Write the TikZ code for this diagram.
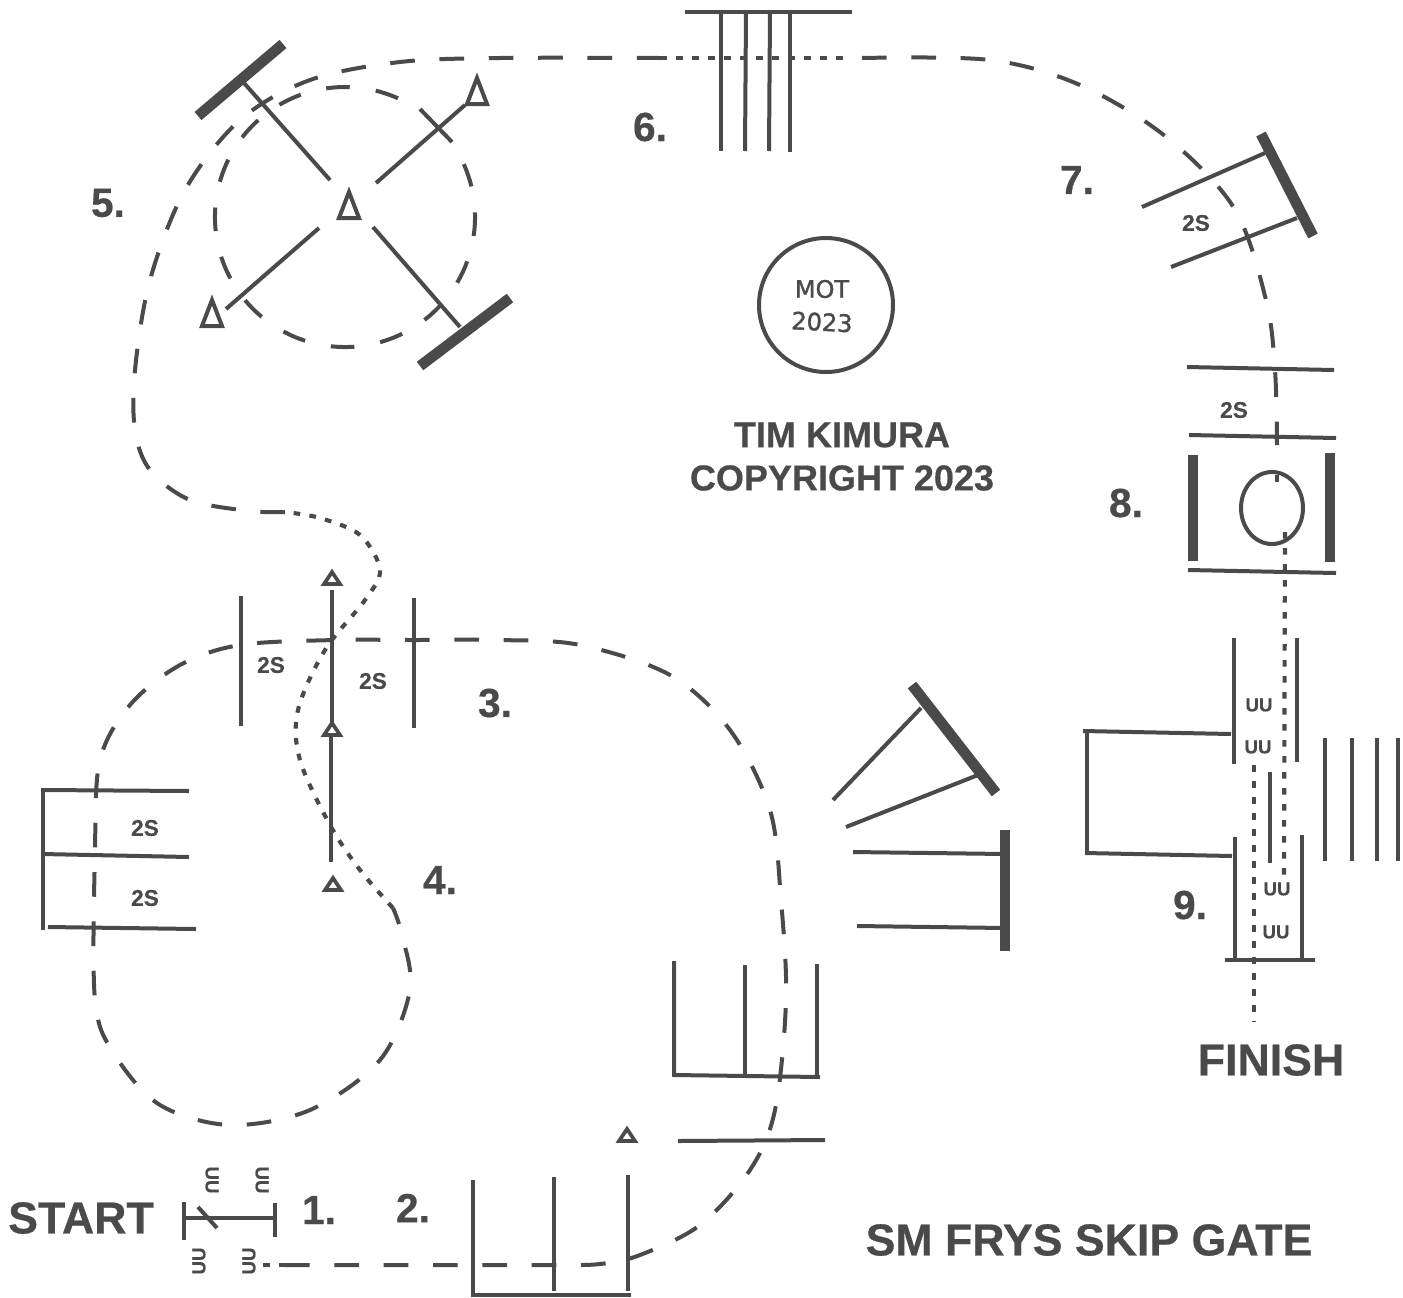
\documentclass[tikz,border=0pt]{standalone}
\usepackage{fontspec}
\setmainfont{Liberation Sans}
\newfontfamily\heavyfont[FakeBold=0.5]{Liberation Sans Bold}
\newfontfamily\handfont[FakeBold=1.5]{DejaVu Sans}
\definecolor{ink}{HTML}{4A4A4D}
\tikzset{
  wire/.style={draw=ink,line width=3pt},
  heavy/.style={draw=ink,line width=8pt},
  dashline/.style={draw=ink,line width=3pt,dash pattern=on 18.5pt off 18.5pt},
  ringline/.style={draw=ink,line width=3pt,dash pattern=on 17.7pt off 19.7pt},
  dotline/.style={draw=ink,line width=3.1pt,dash pattern=on 5pt off 7pt},
  coneA/.style={draw=ink,line width=3pt,line join=miter},
  lab/.style={text=ink,font=\heavyfont\fontsize{30.5}{30.5}\selectfont,inner sep=0pt},
  big/.style={text=ink,font=\heavyfont\fontsize{33.5}{33.5}\selectfont,inner sep=0pt},
  mid/.style={text=ink,font=\heavyfont\fontsize{27}{27}\selectfont,inner sep=0pt,align=center},
  two/.style={text=ink,font=\heavyfont\fontsize{17}{17}\selectfont,inner sep=0pt},
  uu/.style={text=ink,font=\heavyfont\fontsize{14}{14}\selectfont,inner sep=0pt},
  hand/.style={text=ink,font=\handfont\fontsize{18}{18}\selectfont,inner sep=0pt},
}
\newcommand{\bigcone}[2]{\draw[coneA] (#1-10,#2+13) -- (#1,#2-13) -- (#1+10,#2+13) -- cycle;}
\newcommand{\smallcone}[2]{\draw[coneA,line width=2.8pt] (#1-8,#2+6) -- (#1,#2-6) -- (#1+8,#2+6) -- cycle;}
\begin{document}
\begin{tikzpicture}[x=0.75pt,y=-0.75pt]
\useasboundingbox (0,0) rectangle (1403,1297);
% course path
\draw[dotline] (263,1265) -- (285,1265);
\draw[dashline] plot[smooth,tension=0.55] coordinates {(285,1265) (470,1265) (555,1265) (600,1264) (640,1255) (700,1225) (750,1170) (775,1110) (786,1000) (781,900) (770,810) (730,730) (670,675) (580,645) (500,640) (414,640) (335,640) (240,645) (180,665) (130,705) (100,760) (95,850) (95,1000) (115,1055) (160,1105) (230,1125) (310,1110) (380,1060) (410,990) (402,935) (393,908)};
\draw[dotline] plot[smooth,tension=0.55] coordinates {(393,908) (360,870) (330,825) (300,760) (298,710) (325,650) (365,600) (380,570) (360,535) (320,518) (285,512)};
\draw[dashline] plot[smooth,tension=0.55] coordinates {(285,512) (250,511) (190,500) (150,470) (135,430) (135,370) (150,280) (185,190) (240,120) (310,80) (400,62) (500,58) (660,58)};
\draw[dotline] (660,58) -- (850,58);
\draw[dashline] plot[smooth,tension=0.55] coordinates {(862,58) (990,60) (1080,85) (1165,136) (1234,208) (1266,300) (1275,370) (1277,445)};
\draw[dotline] (1277,475) -- (1277,487);
\draw[dotline] (1285,532) -- (1284,875);
\draw[dotline] (1254,765) -- (1254,1022);
% obstacle 1
\draw[wire] (185,1218) -- (275,1218);
\draw[wire] (184,1202) -- (184,1240);
\draw[wire] (275,1203) -- (275,1237);
\draw[wire] (198,1207) -- (217,1228);
\node[uu,rotate=-90] (u1) at (212,1180) {UU};
\node[uu,rotate=-90] (u2) at (262,1180) {UU};
\node[uu,rotate=90] (u3) at (199,1261) {UU};
\node[uu,rotate=90] (u4) at (249,1261) {UU};
% obstacle 2
\draw[wire] (473,1180) -- (473,1295) -- (631,1295);
\draw[wire] (554,1177) -- (554,1291);
\draw[wire] (628,1175) -- (628,1291);
\smallcone{627}{1135}
% lower right boxes
\draw[wire] (674,961) -- (674,1075) -- (820,1077);
\draw[wire] (745,965) -- (745,1076);
\draw[wire] (817,964) -- (817,1076);
\draw[wire] (678,1141) -- (825,1140);
% middle-right gates
\draw[heavy] (912,685) -- (996,793);
\draw[wire] (921,708) -- (833,800);
\draw[wire] (978,775) -- (846,827);
\draw[heavy] (1005,830) -- (1005,951);
\draw[wire] (853,852) -- (1005,854);
\draw[wire] (857,926) -- (1005,928);
% obstacle 3/4
\draw[wire] (241,596) -- (241,726);
\draw[wire] (332,590) -- (332,722);
\draw[wire] (414,598) -- (414,728);
\draw[wire] (331,737) -- (331,862);
\smallcone{332}{578}
\smallcone{332}{729}
\smallcone{333}{884}
\node[two] (t1) at (271,665) {2S};
\node[two] (t2) at (373,681) {2S};
% left boxes
\draw[wire] (42,790) -- (189,791);
\draw[wire] (42,854) -- (189,857);
\draw[wire] (48,927) -- (196,929);
\draw[wire] (43,788) -- (43,930);
\node[two] (t3) at (145,828) {2S};
\node[two] (t4) at (145,898) {2S};
% obstacle 5
\draw[ringline] (345,217) ++(-24:130) arc[start angle=-24,end angle=304,radius=130];
\draw[heavy] (198,116) -- (283,44);
\draw[heavy] (420,366) -- (510,298);
\draw[wire] (244,83) -- (330,180);
\draw[wire] (373,227) -- (460,327);
\draw[wire] (376,183) -- (465,105);
\draw[wire] (420,109) -- (452,142);
\draw[wire] (319,228) -- (226,309);
\bigcone{349}{205}
\bigcone{477}{91}
\bigcone{212}{313}
% obstacle 6
\draw[wire] (685,12) -- (852,12);
\draw[wire] (721,12) -- (721,151);
\draw[wire] (746,12) -- (745,151);
\draw[wire] (770,12) -- (769,151);
\draw[wire] (790,12) -- (790,152);
% obstacle 7
\draw[heavy] (1261,134) -- (1313,236);
\draw[wire] (1142,207) -- (1265,153);
\draw[wire] (1171,267) -- (1297,218);
\node[two] (t5) at (1196,223) {2S};
% obstacle 8
\draw[wire] (1187,367) -- (1334,370);
\draw[wire] (1189,435) -- (1336,438);
\draw[heavy] (1193,455) -- (1193,561);
\draw[heavy] (1330,453) -- (1330,562);
\draw[wire] (1188,570) -- (1336,573);
\draw[wire] (1272,508) ellipse[x radius=31,y radius=36];
\node[two] (t6) at (1234,410) {2S};
% obstacle 9
\draw[wire] (1234,638) -- (1234,764);
\draw[wire] (1297,638) -- (1297,762);
\draw[wire] (1270,772) -- (1270,863);
\draw[wire] (1235,837) -- (1235,960);
\draw[wire] (1302,835) -- (1302,960);
\draw[wire] (1225,960) -- (1315,960);
\draw[wire] (1083,731) -- (1231,734);
\draw[wire] (1087,731) -- (1087,853);
\draw[wire] (1085,853) -- (1232,856);
\draw[wire] (1325,738) -- (1325,861);
\draw[wire] (1352,738) -- (1352,861);
\draw[wire] (1377,738) -- (1377,861);
\draw[wire] (1398,738) -- (1398,861);
\node[uu] (u5) at (1259,705) {UU};
\node[uu] (u6) at (1258,747) {UU};
\node[uu] (u7) at (1277,889) {UU};
\node[uu] (u8) at (1276,932) {UU};
% stamp
\draw[wire] (826,305) circle[radius=67];
\node[hand] (m1) at (822,289) {MOT};
\node[hand,rotate=-3] (m2) at (822,322) {2023};
% labels
\node[mid] (c1) at (842,435) {TIM KIMURA};
\node[mid] (c2) at (842,478) {COPYRIGHT 2023};
\node[big] (start) at (81,1218) {START};
\node[big] (finish) at (1271,1060) {FINISH};
\node[big] (title) at (1089,1240) {SM FRYS SKIP GATE};
\node[lab] (n1) at (319,1210) {1.};
\node[lab] (n2) at (413,1208) {2.};
\node[lab] (n3) at (495,703) {3.};
\node[lab] (n4) at (440,880) {4.};
\node[lab] (n5) at (108,203) {5.};
\node[lab] (n6) at (650,127) {6.};
\node[lab] (n7) at (1077,180) {7.};
\node[lab] (n8) at (1126,503) {8.};
\node[lab] (n9) at (1190,905) {9.};
\end{tikzpicture}
\end{document}
